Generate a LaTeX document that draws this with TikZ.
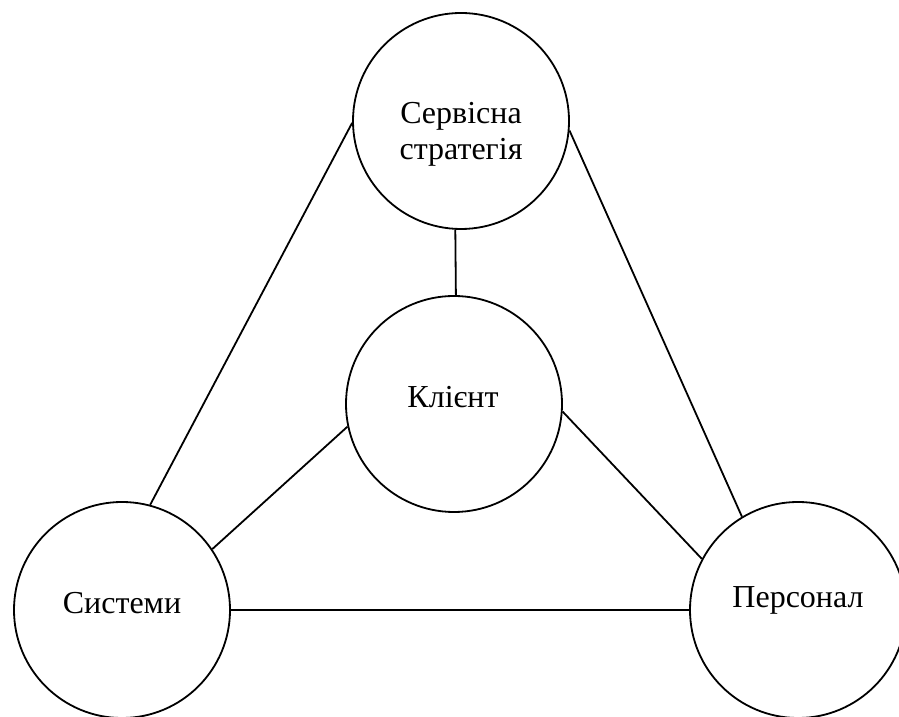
\documentclass[tikz,border=0pt]{standalone}
\usepackage{fontspec}
\setmainfont{Liberation Serif}
\begin{document}
\begin{tikzpicture}[x=1pt,y=1pt,
  ring/.style={draw,circle,minimum size=216pt,inner sep=0pt,line width=1.8pt},
  link/.style={line width=1.8pt},
  lbl/.style={anchor=base,inner sep=0pt,font=\fontsize{32}{36}\selectfont}]
\useasboundingbox (0,0) rectangle (899,717);
\node[ring] (top) at (461,596) {};
\node[ring] (cl) at (454,313) {};
\node[ring] (sys) at (122,107) {};
\node[ring] (per) at (798,107) {};
\node[lbl] (t1) at (461,593) {Сервісна};
\node[lbl] (t2) at (461,557.7) {стратегія};
\node[lbl] (t3) at (453,309) {Клієнт};
\node[lbl] (t4) at (122,103) {Системи};
\node[lbl] (t5) at (798,109) {Персонал};
\draw[link] (top.181.2) -- (sys.75);
\draw[link] (top.-5.6) -- (per.121.1);
\draw[link] (top.-93) -- (cl.89.3);
\draw[link] (cl.192.4) -- (sys.34.5);
\draw[link] (cl.-4.9) -- (per.152.3);
\draw[link] (sys.east) -- (per.west);
\end{tikzpicture}
\end{document}
